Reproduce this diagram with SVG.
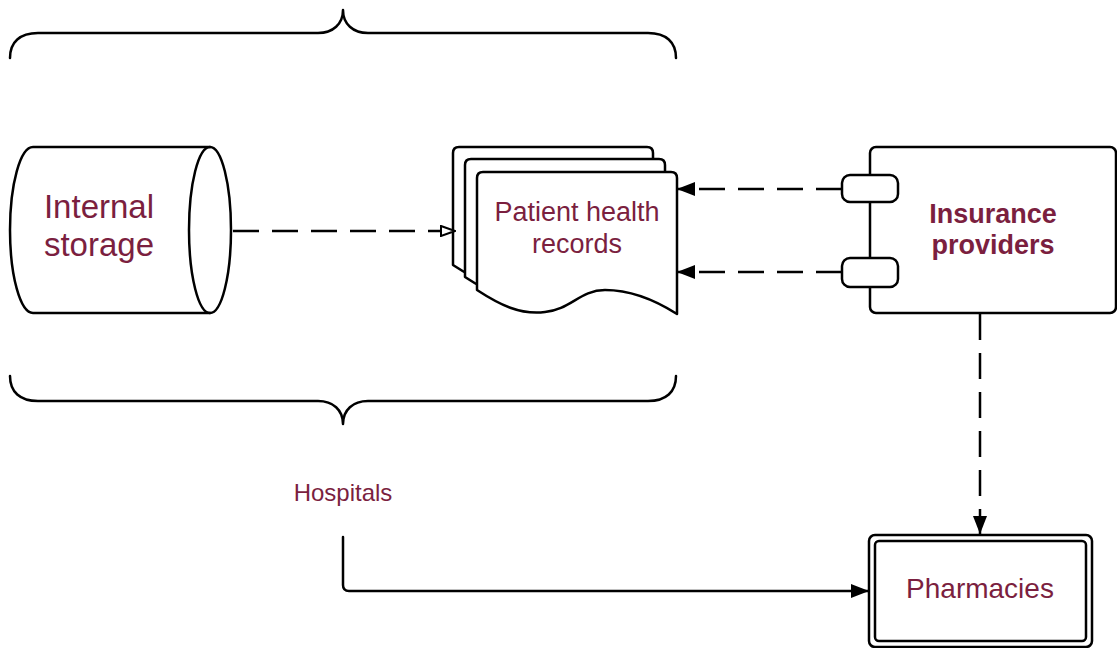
<svg xmlns="http://www.w3.org/2000/svg" width="1117" height="648" viewBox="0 0 1117 648">
<style>
.ln{fill:none;stroke:#000;stroke-width:2.5;stroke-linecap:round;stroke-linejoin:round}
.dash{fill:none;stroke:#000;stroke-width:2.5;stroke-dasharray:26 13}
.shape{fill:#fff;stroke:#000;stroke-width:2.5;stroke-linejoin:round}
.t{font-family:"Liberation Sans",Arial,sans-serif;fill:#7b1f3f;text-anchor:middle}
</style>
<defs>
<marker id="open" viewBox="0 0 16 12" refX="15" refY="6" markerWidth="16" markerHeight="12" markerUnits="userSpaceOnUse" orient="auto">
<path d="M1,1 L15,6 L1,11 Z" fill="#fff" stroke="#000" stroke-width="2"/>
</marker>
<marker id="fill" viewBox="0 0 18 14" refX="18" refY="7" markerWidth="18" markerHeight="14" markerUnits="userSpaceOnUse" orient="auto">
<path d="M0,0 L18,7 L0,14 Z" fill="#000"/>
</marker>
<path id="doc" d="M477,290 L477,178 Q477,172 483,172 L671,172 Q677,172 677,178 L677,314 C655,300 630,290 605,290 C580,290 570,310 545,312 C520,315 500,305 477,290 Z"/>
</defs>

<g id="brace-top">
<path class="ln" d="M10,58 C10,42 20,33 38,33 L318,33 C333,33 343,24 343,10 C343,24 353,33 368,33 L648,33 C666,33 676,42 676,58"/>
</g>
<g id="brace-bottom">
<path class="ln" d="M10,376 C10,392 20,401 38,401 L318,401 C333,401 343,410 343,424 C343,410 353,401 368,401 L648,401 C666,401 676,392 676,376"/>
</g>

<g id="internal-storage">
<path class="shape" d="M33,147 L210,147 A21,83 0 0 1 210,313 L33,313 A23,83 0 0 1 33,147 Z"/>
<path class="ln" d="M210,313 A21,83 0 0 1 210,147"/>
<text class="t" x="99" y="218" font-size="33">Internal</text>
<text class="t" x="99" y="256" font-size="33">storage</text>
</g>

<g id="patient-health-records">
<use href="#doc" class="shape" transform="translate(-24,-25)"/>
<use href="#doc" class="shape" transform="translate(-12,-13)"/>
<use href="#doc" class="shape"/>
<text class="t" x="577" y="221" font-size="27">Patient health</text>
<text class="t" x="577" y="253" font-size="27">records</text>
</g>

<g id="insurance-providers">
<rect class="shape" x="870" y="147" width="246" height="166" rx="6"/>
<rect class="shape" x="842" y="175" width="56" height="27" rx="8"/>
<rect class="shape" x="842" y="258" width="56" height="29" rx="8"/>
<text class="t" x="993" y="223" font-size="27" font-weight="bold">Insurance</text>
<text class="t" x="993" y="254" font-size="27" font-weight="bold">providers</text>
</g>

<g id="pharmacies">
<rect class="shape" x="869" y="535" width="223" height="112" rx="6"/>
<rect class="shape" x="875" y="541" width="211" height="100" rx="4"/>
<text class="t" x="980" y="598" font-size="28">Pharmacies</text>
</g>

<g id="hospitals">
<text class="t" x="343" y="501" font-size="24">Hospitals</text>
</g>

<g id="connectors">
<line class="dash" x1="233" y1="231" x2="455" y2="231" marker-end="url(#open)"/>
<line class="dash" x1="842" y1="189" x2="677" y2="189" marker-end="url(#fill)"/>
<line class="dash" x1="842" y1="272" x2="677" y2="272" marker-end="url(#fill)"/>
<line class="dash" x1="980" y1="314" x2="980" y2="534" marker-end="url(#fill)"/>
<path class="ln" d="M343,537 L343,585 Q343,591 349,591 L852,591"/>
<line x1="852" y1="591" x2="869" y2="591" stroke="#000" stroke-width="2.5" marker-end="url(#fill)"/>
</g>
</svg>
